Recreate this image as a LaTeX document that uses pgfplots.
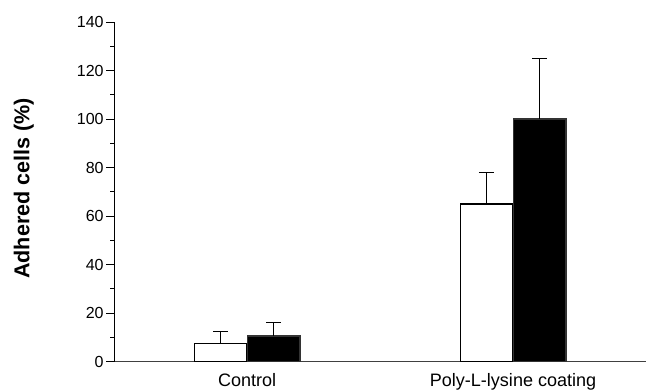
\documentclass[border=0pt]{standalone}
\usepackage{pgfplots}
\pgfplotsset{compat=1.18}
\usepackage{fontspec}
\setmainfont{Liberation Sans}
\begin{document}
\begin{tikzpicture}
\begin{axis}[
  name=ax,
  scale only axis,
  width=531pt, height=339pt,
  xmin=-0.5, xmax=1.5,
  ymin=0, ymax=140,
  axis x line*=bottom,
  axis y line*=left,
  x axis line style={draw=black!75, line width=1pt, -},
  y axis line style={line width=1pt, -},
  xtick={0,1},
  xticklabels={Control, Poly-L-lysine coating},
  x tick label style={font=\fontsize{18}{20}\selectfont, yshift=0pt},
  x tick style={draw=none},
  extra x ticks={0.5,1.5},
  extra x tick labels={},
  extra x tick style={tick align=center, major tick length=7pt, tick style={draw=black, line width=0.8pt}},
  ytick={0,20,...,140},
  minor y tick num=1,
  tick align=outside,
  y tick style={line width=0.8pt, black},
  major tick length=8pt,
  minor tick length=4pt,
  y tick label style={font=\fontsize{16}{18}\selectfont, xshift=1pt},
  /pgf/number format/assume math mode=true,
  ylabel={\textbf{Adhered cells (\%)}},
  ylabel style={font=\fontsize{21.5}{24}\selectfont, at={(axis description cs:-0.17,0.51)}, anchor=center},
  ybar=0pt,
  bar width=0.197,
  error bars/y dir=plus,
  error bars/y explicit,
  error bars/error bar style={line width=1pt, black},
  error bars/error mark options={rotate=90, mark size=7.5pt, line width=1pt, black},
]
\addplot[fill=white, draw=black, line width=1.4pt, bar shift=-0.1]
  coordinates {(0,7.5) +- (0,5) (1,65) +- (0,13)};
\addplot[fill=black, draw=black!80, line width=1.4pt, bar shift=0.1]
  coordinates {(0,10.5) +- (0,5.5) (1,100) +- (0,25)};
\end{axis}
\pgfresetboundingbox
\path ([xshift=-114pt,yshift=-29pt]ax.south west) rectangle ([xshift=1pt,yshift=22pt]ax.north east);
\end{tikzpicture}
\end{document}
